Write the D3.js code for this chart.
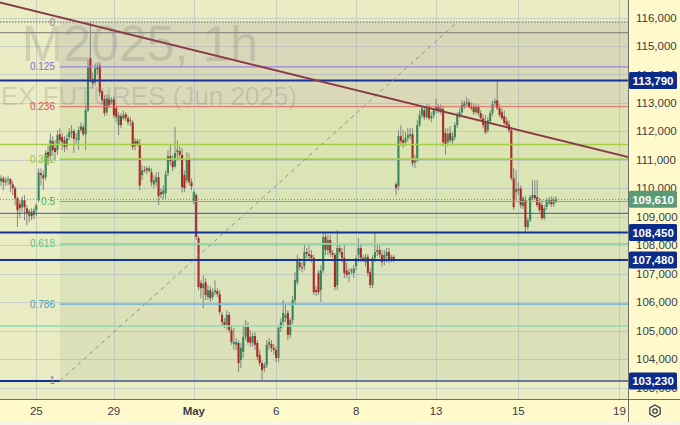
<!DOCTYPE html>
<html><head><meta charset="utf-8">
<script src="https://cdn.jsdelivr.net/npm/d3@7"></script>
<style>html,body{margin:0;padding:0;background:#fff;}svg{display:block;}</style>
</head><body>
<svg id="chart" width="680" height="425"></svg>
<script>
// ---------------- DATA (prices in thousands) ----------------
// hourly candles: [open, high, low, close]
const candles = [
[110.25,110.46,110.07,110.35],[110.35,110.42,109.93,110.21],[110.21,110.39,110.07,110.28],[110.28,110.42,110.10,110.32],
[110.32,110.35,109.86,110.14],[110.14,110.25,109.76,110.00],[110.00,110.07,109.40,109.65],[109.65,109.72,108.64,109.23],
[109.44,109.58,108.95,109.30],[109.33,109.72,109.16,109.58],[109.58,109.76,108.88,109.33],[109.30,109.40,108.70,109.13],
[109.02,109.27,108.81,109.20],[109.16,109.30,108.88,109.02],[109.06,109.33,108.91,109.23],[109.23,109.48,109.02,109.40],
[109.58,110.70,109.51,110.56],[110.53,110.70,110.10,110.46],[110.46,110.63,109.93,110.35],[110.39,111.34,110.28,111.24],
[111.27,111.48,110.81,111.06],[111.13,111.94,110.98,111.69],[111.66,111.83,111.17,111.34],[111.41,111.69,110.98,111.27],
[111.34,112.04,111.17,111.87],[111.90,112.11,111.52,111.69],[111.80,111.94,111.34,111.62],[111.69,111.83,111.27,111.45],
[111.48,111.90,111.34,111.76],[111.80,112.11,111.69,111.97],[111.94,112.22,111.76,112.01],[112.01,112.08,111.24,111.73],
[111.73,111.94,111.52,111.76],[111.69,112.18,111.34,112.04],[112.04,112.32,111.97,112.18],[112.15,112.25,111.83,111.90],
[111.90,112.92,111.34,112.74],[112.74,114.49,112.67,114.25],
[114.57,115.87,113.72,113.83],[113.83,114.07,113.51,113.69],[113.72,114.39,113.62,114.21],[114.18,114.42,113.97,114.28],
[114.32,114.42,113.23,113.37],[113.41,113.51,112.95,113.09],[113.13,113.27,112.53,112.64],[112.67,113.30,112.57,113.16],
[113.13,113.27,112.81,112.92],[113.02,113.20,112.95,113.09],[113.13,113.23,112.46,112.57],[112.81,112.92,112.32,112.50],
[112.22,112.67,111.87,112.57],[112.53,112.64,112.11,112.22],[112.46,112.74,112.39,112.57],[112.60,112.67,112.36,112.46],
[112.46,112.57,112.22,112.32],[112.36,112.50,112.18,112.39],[112.32,112.39,111.34,111.45],[111.48,111.76,111.34,111.66],
[111.66,111.73,111.48,111.55],[111.55,111.73,109.93,110.10],
[110.46,110.81,110.28,110.63],[110.63,110.77,110.56,110.60],[110.70,110.77,110.49,110.63],[110.60,110.77,110.56,110.70],
[110.56,110.70,110.07,110.21],[110.14,110.46,110.00,110.28],[110.21,110.56,110.07,110.39],[110.39,110.56,109.41,109.72],
[109.86,110.00,109.65,109.79],[109.79,110.10,109.62,109.93],[109.83,110.63,109.65,110.49],[110.53,111.34,110.42,111.13],
[111.13,111.52,110.81,110.95],[110.95,111.17,110.60,110.74],[110.77,112.15,110.70,111.24],[111.27,111.69,110.98,111.34],
[111.31,111.48,111.06,111.17],[111.17,111.41,109.86,110.04],[110.46,110.63,109.86,110.00],[110.28,111.27,110.18,111.02],
[111.02,111.24,110.10,110.21],[110.21,110.35,109.93,110.07],[109.51,109.93,109.44,109.86],
[109.76,109.83,108.18,108.29],[108.25,108.32,106.42,106.53],[106.67,106.77,106.14,106.49],[106.49,106.95,105.79,106.63],
[106.70,106.84,106.07,106.25],[106.18,106.60,106.07,106.42],[106.42,106.56,106.00,106.14],[106.18,106.49,106.07,106.35],
[106.35,106.77,106.25,106.42],[106.39,106.49,106.18,106.28],[106.28,106.42,105.55,105.65],[105.55,105.65,105.16,105.30],
[105.30,105.44,105.09,105.20],[105.20,105.72,105.02,105.55],[105.55,105.65,104.92,105.02],[105.02,105.20,104.50,104.60],
[104.53,105.09,104.32,104.60],[104.50,104.74,104.32,104.60],[104.57,104.67,103.54,103.86],[103.96,104.57,103.68,104.39],
[104.25,105.20,104.04,104.78],[104.78,105.37,104.67,105.13],[105.13,105.30,104.50,104.60],[104.78,105.02,104.43,104.57],
[104.57,104.92,104.43,104.81],[104.81,104.95,104.32,104.50],[104.57,104.67,103.96,104.08],[104.15,104.32,103.75,103.86],
[103.86,103.96,103.23,103.61],
[103.68,103.89,103.54,103.79],[103.79,104.67,103.68,104.50],[104.50,104.74,104.32,104.60],[104.53,104.67,104.25,104.39],
[104.39,104.53,104.15,104.32],[104.32,104.46,103.89,104.04],[104.04,105.16,103.89,105.09],[105.09,105.44,104.95,105.30],
[105.30,106.07,105.16,105.62],[105.44,105.90,105.30,105.55],[105.62,105.72,104.67,104.85],[104.85,105.44,104.74,105.37],
[105.37,106.21,105.23,106.07],[106.07,107.05,105.90,106.77],[106.70,107.66,106.60,107.47],[107.40,107.55,107.12,107.23],
[107.23,107.40,107.05,107.19],[107.26,108.00,107.12,107.76],[107.76,107.90,107.55,107.69],[107.69,107.97,107.47,107.62],
[107.66,107.83,107.40,107.55],[107.55,107.66,106.25,106.35],[106.42,106.56,106.21,106.35],[107.02,107.12,106.25,106.35],
[106.42,107.30,106.00,107.12],[107.12,108.46,107.02,108.29],[108.29,108.46,107.66,107.83],[107.83,108.36,107.66,108.18],
[108.18,108.36,107.59,107.73],[107.73,107.83,107.55,107.66],[107.66,107.73,106.42,106.53],[106.60,108.53,106.42,107.90],
[107.90,108.00,107.66,107.76],[107.76,107.90,107.40,107.55],[107.55,108.00,106.84,107.02],[107.12,107.40,106.84,106.95],
[106.98,107.19,106.70,107.05],[107.12,107.19,106.98,107.10],[107.02,107.30,106.84,107.19],[107.26,107.66,107.12,107.55],
[107.66,108.25,107.40,107.90],[107.90,108.04,107.40,107.55],[107.55,107.66,107.40,107.53],[107.40,107.69,107.26,107.59],
[107.59,107.69,106.91,107.02],[107.05,107.19,106.49,106.60],[106.60,107.66,106.49,107.55],[107.55,108.46,107.40,107.76],
[107.76,108.00,107.62,107.83],[107.83,107.97,107.55,107.66],[107.66,107.83,107.26,107.40],[107.44,107.83,107.30,107.66],
[107.62,107.90,107.40,107.76],[107.76,107.90,107.37,107.47],[107.47,107.66,107.40,107.59],[107.59,107.66,107.40,107.48],
[110.14,110.21,109.76,110.00],[110.07,112.04,109.93,111.83],[111.83,112.22,111.48,111.66],[111.69,112.04,111.41,111.59],
[111.62,111.97,111.48,111.76],[111.76,112.11,111.62,111.87],[111.83,112.11,111.73,111.90],[111.90,112.11,110.77,110.88],
[110.91,111.17,110.70,110.98],[110.98,112.39,110.91,112.22],[112.22,112.74,112.15,112.57],[112.57,112.88,112.46,112.81],
[112.74,112.88,112.39,112.50],[112.50,112.95,112.43,112.81],[112.81,112.95,112.39,112.46],[112.46,112.67,112.32,112.53],
[112.57,112.81,112.46,112.74],[112.74,113.16,112.64,112.85],[112.85,112.95,112.64,112.71],[112.71,112.95,112.60,112.81],
[112.78,112.88,111.48,111.62],[111.94,112.11,111.17,111.52],[111.62,112.11,111.48,111.90],[111.94,112.18,111.59,111.69],
[111.66,111.97,111.52,111.83],[111.80,112.32,111.69,112.22],[112.22,112.67,112.11,112.57],[112.57,112.81,112.46,112.67],
[112.67,113.09,112.57,112.92],[112.88,113.09,112.78,112.99],[112.99,113.20,112.88,113.02],[113.02,113.13,112.81,112.85],
[112.88,113.02,112.74,112.81],[112.85,112.99,112.57,112.67],[112.67,112.95,112.60,112.85],[112.85,112.95,112.53,112.64],
[112.64,112.74,112.39,112.46],[112.46,112.60,112.11,112.22],[112.32,112.57,111.90,111.97],[112.04,112.50,111.94,112.39],
[112.36,112.74,112.29,112.64],[112.64,113.09,112.53,112.95],[112.99,113.16,112.88,113.06],[113.09,113.79,112.74,112.81],
[112.81,112.95,112.50,112.57],[112.67,112.81,112.39,112.46],[112.53,112.74,112.22,112.29],[112.36,112.50,112.15,112.22],
[112.25,112.39,111.94,112.04],[112.04,112.15,110.28,110.35],
[110.35,110.70,109.23,109.34],[109.86,110.63,109.58,109.97],[109.97,110.21,109.76,109.93],[110.00,110.10,109.30,109.41],
[109.37,109.72,109.27,109.65],[109.58,109.72,108.46,108.64],[108.64,108.95,108.53,108.88],[108.88,109.76,108.81,109.69],
[109.65,110.28,109.58,109.76],[109.76,110.28,109.58,109.65],[109.69,110.28,109.34,109.41],[109.48,109.65,109.16,109.23],
[109.41,109.58,108.88,108.95],[108.95,109.41,108.88,109.30],[109.34,109.65,109.23,109.58],[109.48,109.69,109.41,109.58],
[109.58,109.72,109.34,109.44],[109.44,109.69,109.34,109.58],[109.55,109.72,109.48,109.61]
];
const timeTickIndex = [15, 48, 82, 117, 151, 185, 220, 263];
const timeTickLabels = ["25", "29", "May", "6", "8", "13", "15", "19"];
const priceTicks = [103, 104, 105, 106, 107, 108, 109, 110, 111, 112, 113, 114, 115, 116];
const keyLevels = [113.79, 108.45, 107.48, 103.23];        // labelled horizontal lines
const extraLevels = [115.47, 111.54, 109.12, 105.16];       // other horizontal lines
const dottedLevel = 115.84;
const fibRatios = [0, 0.125, 0.236, 0.382, 0.5, 0.618, 0.786, 1];
const fibLabels = ["0", "0.125", "0.236", "0.382", "0.5", "0.618", "0.786", "1"];
const fibStart = [25, 103.23];   // [bar index, price]
const fibEnd = [194, 115.84];
const trendStart = [0, 116.52];
const trendEnd = [236, 111.72];
const watermark = ["M2025, 1h", "EX FUTURES (Jun 2025)"];

// ---------------- STYLE ----------------
const W = 680, H = 425, PW = 628, PH = 399;
const FONT = "'Liberation Sans', Arial, sans-serif";
const upColor = "#37875a", downColor = "#aa2b28", wickColor = "#808680";
const keyColor = "#13329a", keyBox = "#0c2c8c";
const extraStyles = [
  {c: "#8d8d84", w: 1.2}, {c: "#a6cf48", w: 1.6}, {c: "#3f51b5", w: 1}, {c: "#8cdcb0", w: 1.6}
];
const fibLineColors = ["#8d8d84", "#9a86e0", "#e06262", "#a6cf48", "#62c462", "#86d8ae", "#7ebccc", "#8b9096"];
const fibLabelColors = ["#8a8a8a", "#8470d4", "#dc4f4f", "#92c23c", "#45b84d", "#52c892", "#44a2c6", "#8a8a8a"];
const fibBandFills = ["rgba(105,100,130,0.14)", "rgba(115,100,125,0.13)", "rgba(110,160,50,0.10)",
  "rgba(90,160,70,0.11)", "rgba(80,160,100,0.10)", "rgba(90,150,120,0.10)", "rgba(110,130,100,0.10)"];

// ---------------- SCALES ----------------
const x = d3.scaleLinear().domain([0, candles.length - 1]).range([1, 556]);
const y = d3.scaleLinear().domain([116, 103]).range([17.5, 387.5]);
const fmt = v => d3.format(",")(Math.round(v * 1000));

const svg = d3.select("#chart").attr("font-family", FONT);
svg.append("rect").attr("width", W).attr("height", H).attr("fill", "#fff9cc");
svg.append("defs").append("clipPath").attr("id", "clip")
  .append("rect").attr("width", PW).attr("height", PH);
svg.append("rect").attr("width", PW).attr("height", PH).attr("fill", "#eaecc3");
const g = svg.append("g").attr("clip-path", "url(#clip)");

// fib band fills
const fibVal = r => fibEnd[1] - r * (fibEnd[1] - fibStart[1]);
const fx0 = x(fibStart[0]);
d3.range(fibRatios.length - 1).forEach(k => {
  const y0 = y(fibVal(fibRatios[k])), y1 = y(fibVal(fibRatios[k + 1]));
  g.append("rect").attr("x", fx0).attr("y", y0).attr("width", PW - fx0).attr("height", y1 - y0)
    .attr("fill", fibBandFills[k]);
});

// grid
g.selectAll(".hg").data(priceTicks).join("line")
  .attr("x1", 0).attr("x2", PW).attr("y1", d => Math.round(y(d)) + 0.5).attr("y2", d => Math.round(y(d)) + 0.5)
  .attr("stroke", "rgba(150,162,190,0.38)").attr("stroke-width", 1);
g.selectAll(".vg").data(timeTickIndex).join("line")
  .attr("y1", 0).attr("y2", PH).attr("x1", d => Math.round(x(d)) + 0.5).attr("x2", d => Math.round(x(d)) + 0.5)
  .attr("stroke", "rgba(150,162,190,0.38)").attr("stroke-width", 1);

// watermark
g.append("text").attr("x", 258).attr("y", 61).attr("text-anchor", "end")
  .attr("font-size", 50).attr("fill", "rgba(110,110,110,0.22)").text(watermark[0]);
g.append("text").attr("x", 297).attr("y", 105).attr("text-anchor", "end")
  .attr("font-size", 26).attr("fill", "rgba(110,110,110,0.22)").text(watermark[1]);

// candles
const cg = g.append("g");
cg.selectAll("line").data(candles).join("line")
  .attr("x1", (d, i) => x(i)).attr("x2", (d, i) => x(i))
  .attr("y1", d => y(d[1])).attr("y2", d => y(d[2]))
  .attr("stroke", wickColor).attr("stroke-width", 1);
cg.selectAll("rect").data(candles).join("rect")
  .attr("x", (d, i) => x(i) - 1.05).attr("width", 2.1)
  .attr("y", d => y(Math.max(d[0], d[3])))
  .attr("height", d => Math.max(1, Math.abs(y(d[0]) - y(d[3]))))
  .attr("fill", d => d[3] >= d[0] ? upColor : downColor);

// dotted top level
g.append("line").attr("x1", 0).attr("x2", PW).attr("y1", y(dottedLevel)).attr("y2", y(dottedLevel))
  .attr("stroke", "#8d8d84").attr("stroke-width", 1.6).attr("stroke-dasharray", "1.5,1.5");
// extra horizontal lines
extraLevels.forEach((v, k) => {
  g.append("line").attr("x1", 0).attr("x2", PW).attr("y1", y(v)).attr("y2", y(v))
    .attr("stroke", extraStyles[k].c).attr("stroke-width", extraStyles[k].w);
});
// key levels
keyLevels.forEach(v => {
  g.append("line").attr("x1", 0).attr("x2", PW).attr("y1", y(v)).attr("y2", y(v))
    .attr("stroke", keyColor).attr("stroke-width", 2);
});

// fib lines + labels
fibRatios.forEach((r, k) => {
  const yy = y(fibVal(r));
  if (k > 0) {
    g.append("line").attr("x1", fx0).attr("x2", PW).attr("y1", yy).attr("y2", yy)
      .attr("stroke", fibLineColors[k]).attr("stroke-width", (r === 0.382 || r === 0.618 || r === 0.786 || r === 1) ? 1.6 : 1.2);
  }
  g.append("text").attr("x", 55).attr("y", yy).attr("dy", "0.35em").attr("text-anchor", "end")
    .attr("font-size", 10).attr("fill", fibLabelColors[k]).text(fibLabels[k]);
});
// fib diagonal
g.append("line").attr("x1", x(fibStart[0])).attr("y1", y(fibStart[1]))
  .attr("x2", x(fibEnd[0])).attr("y2", y(fibEnd[1]))
  .attr("stroke", "#8d8f8a").attr("stroke-width", 1).attr("stroke-dasharray", "4,4");

// trend line (extended across the pane)
const slope = (trendEnd[1] - trendStart[1]) / (trendEnd[0] - trendStart[0]);
const iL = x.invert(-2), iR = x.invert(PW + 2);
g.append("line").attr("x1", x(iL)).attr("y1", y(trendStart[1] + slope * (iL - trendStart[0])))
  .attr("x2", x(iR)).attr("y2", y(trendStart[1] + slope * (iR - trendStart[0])))
  .attr("stroke", "#8b3a48").attr("stroke-width", 2);

// last price line
const last = candles[candles.length - 1][3];
g.append("line").attr("x1", 0).attr("x2", PW).attr("y1", y(last)).attr("y2", y(last))
  .attr("stroke", "#4f9a6c").attr("stroke-width", 1).attr("stroke-dasharray", "1,2");

// axes borders
svg.append("line").attr("x1", PW + 0.5).attr("x2", PW + 0.5).attr("y1", 0).attr("y2", H)
  .attr("stroke", "#6e6e6e").attr("stroke-width", 1);
svg.append("line").attr("x1", 0).attr("x2", W).attr("y1", PH + 0.5).attr("y2", PH + 0.5)
  .attr("stroke", "#6e6e6e").attr("stroke-width", 1);
svg.append("rect").attr("x", 0).attr("y", H - 3).attr("width", W).attr("height", 3).attr("fill", "#f6f4e4");

// price axis labels
svg.selectAll(".pt").data(priceTicks).join("text")
  .attr("x", 636).attr("y", d => y(d)).attr("dy", "0.36em")
  .attr("font-size", 11.5).attr("fill", "#3a3d46").text(d => fmt(d));

// key level boxes
const boxes = keyLevels.map(v => ({v, c: keyBox})).concat([{v: last, c: "#5a9b76"}]);
boxes.forEach(b => {
  svg.append("rect").attr("x", 629).attr("y", y(b.v) - 8.5).attr("width", 48).attr("height", 17)
    .attr("rx", 1.5).attr("fill", b.c);
  svg.append("text").attr("x", 653).attr("y", y(b.v)).attr("dy", "0.36em").attr("text-anchor", "middle")
    .attr("font-size", 11.5).attr("font-weight", "bold").attr("fill", "#ffffff").text(fmt(b.v));
});

// time axis labels
svg.selectAll(".tt").data(timeTickIndex).join("text")
  .attr("x", d => x(d)).attr("y", 411).attr("dy", "0.36em").attr("text-anchor", "middle")
  .attr("font-size", 11.5).attr("font-weight", (d, i) => timeTickLabels[i] === "May" ? "bold" : "normal")
  .attr("fill", "#3a3d46").text((d, i) => timeTickLabels[i]);

// settings icon
const gear = svg.append("g").attr("transform", "translate(655,411)");
const hex = d3.range(6).map(k => [6 * Math.cos(Math.PI / 3 * k + Math.PI / 6), 6 * Math.sin(Math.PI / 3 * k + Math.PI / 6)]);
gear.append("polygon").attr("points", hex.map(p => p.join(",")).join(" "))
  .attr("fill", "none").attr("stroke", "#3a3d46").attr("stroke-width", 1.3);
gear.append("circle").attr("r", 2.2).attr("fill", "none").attr("stroke", "#3a3d46").attr("stroke-width", 1.3);
</script>
</body></html>
